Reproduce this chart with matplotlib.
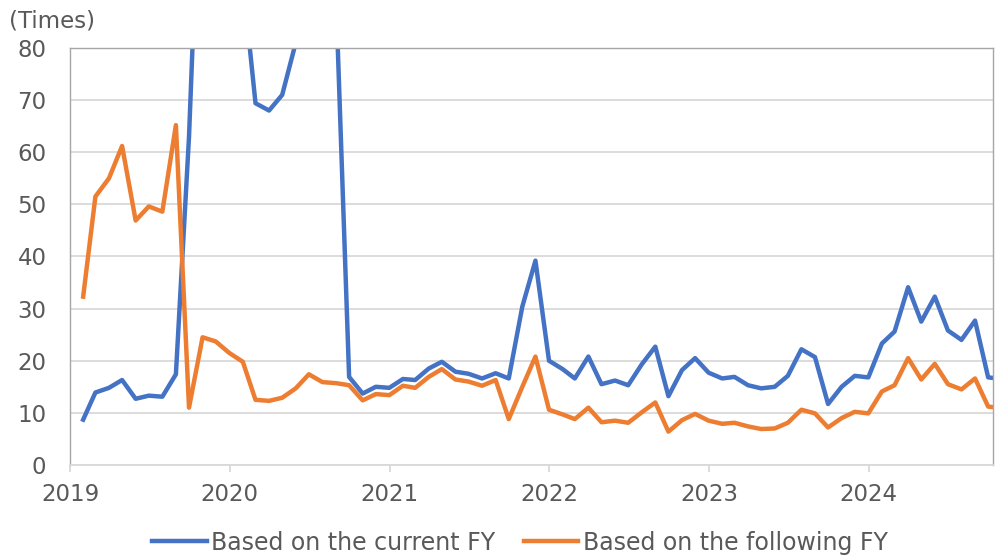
import matplotlib.pyplot as plt
import pandas as pd

# month-end observations, plus the latest reading in October 2024
dates = list(pd.date_range("2019-01-31", "2024-09-30", freq="ME")) + [pd.Timestamp("2024-10-11")]

current_fy = [
    8.7, 13.9, 14.8, 16.3, 12.7, 13.3, 13.1, 17.4, 63.0, 130.0, 160.0, 140.0,
    93.0, 69.4, 68.0, 71.0, 81.0, 110.0, 120.0, 90.0, 16.9, 13.7, 15.0, 14.8,
    16.5, 16.3, 18.5, 19.8, 17.9, 17.5, 16.6, 17.6, 16.6, 30.4, 39.2, 20.0,
    18.4, 16.6, 20.8, 15.5, 16.2, 15.3, 19.3, 22.7, 13.2, 18.2, 20.5, 17.7,
    16.6, 16.9, 15.3, 14.7, 15.0, 17.1, 22.2, 20.7, 11.7, 15.0, 17.1, 16.8,
    23.3, 25.6, 34.1, 27.5, 32.3, 25.8, 24.0, 27.7, 16.8, 16.7,
]
following_fy = [
    32.3, 51.5, 55.0, 61.2, 46.9, 49.6, 48.6, 65.2, 11.0, 24.5, 23.7, 21.5,
    19.8, 12.5, 12.3, 12.9, 14.7, 17.4, 15.9, 15.7, 15.3, 12.4, 13.6, 13.4,
    15.2, 14.8, 16.9, 18.4, 16.4, 16.0, 15.2, 16.3, 8.8, 15.0, 20.8, 10.6,
    9.7, 8.8, 11.0, 8.2, 8.5, 8.1, 10.1, 12.0, 6.4, 8.6, 9.8, 8.5,
    7.9, 8.1, 7.4, 6.9, 7.0, 8.1, 10.6, 9.9, 7.2, 9.0, 10.2, 9.9,
    14.1, 15.3, 20.5, 16.4, 19.4, 15.5, 14.5, 16.6, 11.2, 11.1,
]
series_labels = ["Based on the current FY", "Based on the following FY"]
year_labels = ["2019", "2020", "2021", "2022", "2023", "2024"]

plt.rcParams["font.family"] = ["DejaVu Sans"]
text_color = "#595959"

fig = plt.figure(figsize=(10.02, 5.58), dpi=100)
ax = fig.add_axes([0.0699, 0.1667, 0.9211, 0.7473])

ax.plot(dates, current_fy, color="#4472C4", lw=3.2, label=series_labels[0])
ax.plot(dates, following_fy, color="#ED7D31", lw=3.2, label=series_labels[1])

ax.set_ylim(0, 80)
ax.set_yticks(range(0, 81, 10))
ax.set_xlim(pd.Timestamp("2019-01-01"), dates[-1])
ax.set_xticks([pd.Timestamp(f"{y}-01-01") for y in year_labels])
ax.set_xticklabels(year_labels)

ax.grid(axis="y", color="#d9d9d9", lw=1.3)
ax.set_axisbelow(True)
for side in ["left", "top", "right"]:
    ax.spines[side].set_color("#a6a6a6")
    ax.spines[side].set_linewidth(1.0)
ax.spines["bottom"].set_color("#d9d9d9")
ax.spines["bottom"].set_linewidth(1.3)

ax.tick_params(axis="y", length=0, pad=17, labelsize=16.5, labelcolor=text_color)
ax.tick_params(axis="x", length=5, width=1.3, color="#d9d9d9", pad=8, labelsize=16.5, labelcolor=text_color)

fig.text(0.009, 0.963, "(Times)", fontsize=16.5, color=text_color, va="center", ha="left")

fig.legend(
    loc="lower center",
    bbox_to_anchor=(0.519, -0.032),
    ncol=2,
    frameon=False,
    fontsize=17,
    labelcolor=text_color,
    handlelength=2.3,
    handletextpad=0.2,
    columnspacing=1.2,
)

fig.savefig("out.png", dpi=100)
